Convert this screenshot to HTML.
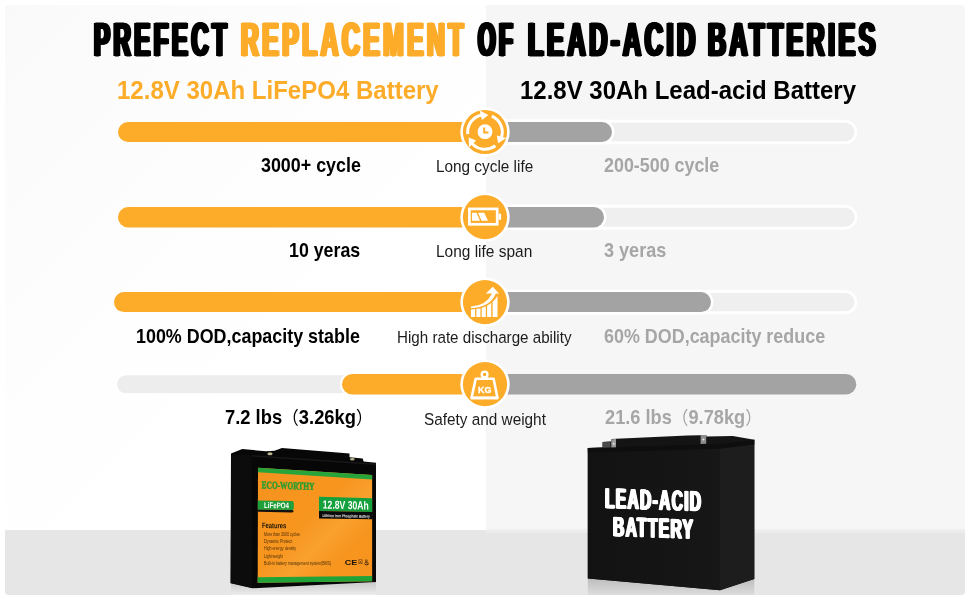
<!DOCTYPE html>
<html lang="en">
<head>
<meta charset="utf-8">
<title>Prefect Replacement of Lead-Acid Batteries</title>
<style>
html,body{margin:0;padding:0;background:#fff;}
body{width:970px;height:600px;overflow:hidden;position:relative;font-family:"Liberation Sans","Noto Sans CJK SC",sans-serif;}
#stage{position:absolute;left:0;top:0;width:970px;height:600px;overflow:hidden;background:#fff;}
#panel{position:absolute;left:5px;top:5px;width:960px;height:590px;border-radius:4px;overflow:hidden;background:#f6f6f6;}
#panel .lh{position:absolute;left:0;top:0;width:480.6px;height:525px;background:linear-gradient(135deg,#f9f9f9 0%,#fcfcfc 22%,#fefefe 45%,#ffffff 70%,#ffffff 100%);}
#panel .rh{position:absolute;left:480.6px;top:0;width:479.4px;height:528.3px;background:linear-gradient(#f6f6f6 0,#f6f6f6 523.8px,#eeeeee 524.6px,#ebebeb 528.3px);}
#panel .floor{position:absolute;left:0;top:525px;width:960px;height:65px;background:#e6e6e6;}
#title{margin:0;position:absolute;left:0;top:0;font-size:0;}
#title span{position:absolute;top:14.5px;font:bold 48.5px "Liberation Sans",sans-serif;line-height:1;white-space:nowrap;transform-origin:0 0;}
#la span{position:absolute;font-weight:bold;font-family:"Liberation Sans",sans-serif;line-height:1;white-space:nowrap;transform-origin:0 0;color:#fff;-webkit-text-stroke:0.6px #fff;}
svg{position:absolute;left:0;top:0;}

.t{position:absolute;white-space:nowrap;line-height:1;margin:0;transform-origin:0 0;}
.h{font-size:25.3px;font-weight:bold;}
.v{font-size:19.7px;font-weight:bold;}
.c{font-size:16.8px;font-weight:normal;}
.p{font-family:"Noto Sans CJK SC",sans-serif;font-weight:normal;font-size:18px;}

</style>
</head>
<body>
<div id="stage">
<div id="panel"><div class="floor"></div><div class="lh"></div><div class="rh"></div></div>
<svg width="970" height="600" viewBox="0 0 970 600" role="img" aria-label="comparison bars, icons and battery illustrations">
<rect x="470" y="119.8" width="387.2" height="24.4" rx="12.2" fill="#fff"/>
<rect x="470" y="122.8" width="384.5" height="18.4" rx="9.2" fill="#efefef"/>
<rect x="470" y="119.6" width="144.4" height="24.8" rx="12.4" fill="#fff"/>
<rect x="470" y="122.0" width="142.0" height="20.0" rx="10.0" fill="#a3a3a3"/>
<rect x="118" y="122.0" width="382" height="20.0" rx="10.0" fill="#fcac29"/>
<circle cx="485" cy="132.0" r="24.7" fill="#fff"/><circle cx="485" cy="132.0" r="22.1" fill="#fcac29"/>
<rect x="470" y="204.8" width="387.2" height="24.9" rx="12.4" fill="#fff"/>
<rect x="470" y="207.8" width="384.5" height="18.9" rx="9.4" fill="#efefef"/>
<rect x="470" y="204.6" width="136.4" height="25.3" rx="12.7" fill="#fff"/>
<rect x="470" y="207.0" width="134.0" height="20.5" rx="10.2" fill="#a3a3a3"/>
<rect x="118" y="207.0" width="382" height="20.5" rx="10.2" fill="#fcac29"/>
<circle cx="485" cy="217.2" r="24.7" fill="#fff"/><circle cx="485" cy="217.2" r="22.1" fill="#fcac29"/>
<rect x="470" y="289.9" width="387.2" height="24.4" rx="12.2" fill="#fff"/>
<rect x="470" y="292.9" width="384.5" height="18.4" rx="9.2" fill="#efefef"/>
<rect x="470" y="289.7" width="243.4" height="24.8" rx="12.4" fill="#fff"/>
<rect x="470" y="292.1" width="241.0" height="20.0" rx="10.0" fill="#a3a3a3"/>
<rect x="114" y="292.1" width="386" height="20.0" rx="10.0" fill="#fcac29"/>
<circle cx="485" cy="302.1" r="24.7" fill="#fff"/><circle cx="485" cy="302.1" r="22.1" fill="#fcac29"/>
<rect x="115" y="373.1" width="383" height="22.3" rx="11.2" fill="#fff"/>
<rect x="117" y="375.2" width="383" height="18.1" rx="9.1" fill="#ededed"/>
<rect x="339.8" y="371.7" width="100" height="25.1" rx="12.6" fill="#fff"/>
<rect x="470" y="373.9" width="386.3" height="20.7" rx="10.4" fill="#a3a3a3"/>
<rect x="342" y="373.9" width="158" height="20.7" rx="10.4" fill="#fcac29"/>
<circle cx="485" cy="384.2" r="24.7" fill="#fff"/><circle cx="485" cy="384.2" r="22.1" fill="#fcac29"/>
<path d="M467.83 134.11 A17.3 17.3 0 0 1 482.00 114.96" fill="none" stroke="#fff" stroke-width="3.0"/><path d="M488.33 115.02 L479.63 110.46 L482.00 119.97 Z" fill="#fff"/>
<path d="M491.76 116.08 A17.3 17.3 0 0 1 501.26 137.92" fill="none" stroke="#fff" stroke-width="3.0"/><path d="M498.04 143.37 L506.34 138.12 L496.92 135.42 Z" fill="#fff"/>
<path d="M495.41 145.82 A17.3 17.3 0 0 1 471.75 143.12" fill="none" stroke="#fff" stroke-width="3.0"/><path d="M468.63 137.60 L469.03 147.42 L476.08 140.61 Z" fill="#fff"/>
<circle cx="485" cy="131.7" r="7.4" fill="#fff"/>
<path d="M484.2 127.5 V132.6 H488.5" fill="none" stroke="#fcac29" stroke-width="2"/>
<rect x="469.4" y="208.89999999999998" width="27.8" height="15.4" fill="none" stroke="#fff" stroke-width="2.7"/>
<rect x="498.5" y="213.7" width="2.6" height="6" fill="#fff"/>
<path d="M472 212.79999999999998 H476.5 L480 220.79999999999998 H472 Z" fill="#fff"/>
<path d="M478 212.79999999999998 H484.2 L488 220.79999999999998 H481.6 Z" fill="#fff"/>
<clipPath id="barclip"><path d="M470.00 309.40 L471.00 309.40 Q490.00 309.20 498.40 294.50 L499.00 294.50 L499.00 318.00 L470.00 318.00 Z"/></clipPath>
<g clip-path="url(#barclip)" fill="#fff"><rect x="471.00" y="292" width="4.10" height="25.00"/><rect x="476.40" y="292" width="4.00" height="25.00"/><rect x="481.70" y="292" width="4.10" height="25.00"/><rect x="487.10" y="292" width="4.10" height="25.00"/><rect x="492.60" y="292" width="4.90" height="25.00"/></g>
<path d="M471.00 306.60 Q486.40 305.40 492.00 293.40 L485.80 293.40 L492.80 286.80 L499.20 293.80 L495.80 293.60 Q490.00 307.60 471.00 308.20 Z" fill="#fff"/>
<circle cx="484.6" cy="374.5" r="2.9" fill="none" stroke="#fff" stroke-width="2.3"/>
<path d="M475.7 378.8 H493.6 L497.5 398 H471.5 Z" fill="none" stroke="#fff" stroke-width="2.6" stroke-linejoin="round"/>
<rect x="471" y="396.5" width="27" height="2.8" fill="#fff"/>
<text x="484.7" y="393" font-family="Liberation Sans, sans-serif" font-weight="bold" font-size="9" fill="#fff" stroke="#fff" stroke-width="0.3" text-anchor="middle" letter-spacing="-0.1">KG</text>
<defs>
<linearGradient id="lab" x1="0" y1="0" x2="1" y2="1">
<stop offset="0" stop-color="#f6921e"/><stop offset="0.45" stop-color="#f7961f"/><stop offset="0.6" stop-color="#f9a02e"/><stop offset="0.75" stop-color="#f7961f"/><stop offset="1" stop-color="#f6921e"/>
</linearGradient>
<linearGradient id="refl1" x1="0" y1="0" x2="0" y2="1">
<stop offset="0" stop-color="#c9c9c9"/><stop offset="1" stop-color="#ededed"/>
</linearGradient>
<linearGradient id="refl2" x1="0" y1="0" x2="0" y2="1">
<stop offset="0" stop-color="#bdbdbd"/><stop offset="1" stop-color="#dcdcdc"/>
</linearGradient>
<linearGradient id="front2" x1="0" y1="0" x2="1" y2="0">
<stop offset="0" stop-color="#121212"/><stop offset="1" stop-color="#171717"/>
</linearGradient>
</defs>
<path d="M231 583 L252.4 588.3 L376 582 L376 595 L231 595 Z" fill="url(#refl1)"/>
<path d="M231 453.6 L242.3 449.1 L266 451.2 L274.5 450.7 L281.9 447.9 L349.5 453.5 L349.5 457.2 L362.7 458.4 L363.6 461.4 L376 462.8 L376 582 L252.4 588.3 L230.5 583.3 Z" fill="#070707"/>
<path d="M231.3 454.5 L251.5 455 L252.4 588 L230.8 583 Z" fill="#0c0c0c"/>
<path d="M252 455 L376 463.5 L376 465 L252 456.5 Z" fill="#1c1c1c" opacity="0.8"/>
<ellipse cx="270" cy="453.8" rx="2.6" ry="1.5" fill="#b9b48c"/>
<ellipse cx="352.3" cy="459.3" rx="2.4" ry="1.3" fill="#b9b48c"/>
<path d="M258 467.7 L372.1 475 L372.1 581.2 L257.7 582.8 Z" fill="url(#lab)"/>
<path d="M258 467.7 L372.1 475 L372.1 479.6 L258 472.3 Z" fill="#27a53a"/>
<path d="M257.7 577.3 L372.1 576 L372.1 581.2 L257.7 582.8 Z" fill="#22a338"/>
<path d="M257.8 509.2 L292.5 509.9 L293.8 511.2 L292.3 512.6 L257.8 511.8 Z" fill="#111"/>
<path d="M257.8 500.4 L292.2 501 Q293.8 501.2 293.8 502.8 L293.8 508.2 Q293.8 509.8 292.2 509.9 L257.8 509.4 Z" fill="#1fa03a"/>
<path d="M319 496.8 L372.2 498.3 L372.2 512 L319 511 Z" fill="#14a03c"/>
<path d="M319 511 L372.6 512 L372.6 519.3 L319 518.4 Z" fill="#0b0b0b"/>
<g font-family="Liberation Sans, sans-serif">
<text transform="translate(261.6 488.3) skewY(1.6)" font-family="Liberation Serif, serif" font-weight="bold" font-size="10.4" textLength="52.8" lengthAdjust="spacingAndGlyphs" fill="#2a9d2f" stroke="#2a9d2f" stroke-width="0.5">ECO-WORTHY</text>
<text transform="translate(264 508) skewY(0.8)" font-weight="bold" font-size="8.2" textLength="25" lengthAdjust="spacingAndGlyphs" fill="#fff">LiFePO4</text>
<text transform="translate(322.8 508.6) skewY(1.2)" font-weight="bold" font-size="11.6" textLength="46" lengthAdjust="spacingAndGlyphs" fill="#fff">12.8V 30Ah</text>
<text transform="translate(322.4 517) skewY(1)" font-weight="bold" font-size="4.2" textLength="47.5" lengthAdjust="spacingAndGlyphs" fill="#e8e8e8">Lithium Iron Phosphate Battery</text>
<text transform="translate(261.9 528.1) skewY(0.4)" font-weight="bold" font-size="7.8" textLength="24.4" lengthAdjust="spacingAndGlyphs" fill="#1a1206">Features</text>
<text x="264" y="535.6" font-size="4.8" textLength="35.9" lengthAdjust="spacingAndGlyphs" fill="#2b1a05" opacity="0.85">More than 3000 cycles</text>
<text x="264" y="542.8000000000001" font-size="4.8" textLength="28.2" lengthAdjust="spacingAndGlyphs" fill="#2b1a05" opacity="0.85">Dynamic Protect</text>
<text x="264" y="550.3000000000001" font-size="4.8" textLength="32.2" lengthAdjust="spacingAndGlyphs" fill="#2b1a05" opacity="0.85">High energy density</text>
<text x="264" y="557.6" font-size="4.8" textLength="18.8" lengthAdjust="spacingAndGlyphs" fill="#2b1a05" opacity="0.85">Light weight</text>
<text x="264" y="564.9" font-size="4.8" textLength="67.1" lengthAdjust="spacingAndGlyphs" fill="#2b1a05" opacity="0.85">Built-in battery management system(BMS)</text>
<text x="344.8" y="564.6" font-weight="bold" font-size="7.6" textLength="12.5" lengthAdjust="spacingAndGlyphs" fill="#1a1206">CE</text>
<text x="358.3" y="564.4" font-size="7.4" fill="#3a2608" opacity="0.8" textLength="5" lengthAdjust="spacingAndGlyphs">⊠</text>
<text x="363.8" y="564.6" font-weight="bold" font-size="7.8" fill="#1a1206" textLength="5" lengthAdjust="spacingAndGlyphs">♨</text>
</g>
<path d="M587.8 578.4 L720 590.2 L754.3 579 L754.3 595 L587.8 595 Z" fill="url(#refl2)"/>
<path d="M602.5 447.8 L602.5 442 L611 441.5 L611.5 439 L616.2 438.8 L687.7 435.5 L700.5 435.2 L700.5 434.9 L706.3 434.9 L706.3 436.6 L732.8 435.9 L754.3 439.8 L754.3 579 L720 590.2 L587.8 578.4 L587.8 448 Z" fill="#141414"/>
<path d="M587.8 448 L720 443.9 L720 590.2 L587.8 578.4 Z" fill="url(#front2)"/>
<path d="M720 443.9 L754.3 439.8 L754.3 579 L720 590.2 Z" fill="#1d1d1d"/>
<path d="M587.8 448 L720 443.9 L754.3 439.8 L754.3 444.5 L720 448.8 L587.8 452.6 Z" fill="#0e0e0e"/>
<path d="M602.8 442 L610.5 441.6 L610.5 447.4 L602.8 447.7 Z" fill="#4a4a4a"/>
<path d="M611.3 439.2 L616 439 L616 447.2 L611.3 447.4 Z" fill="#9a9a9a"/>
<circle cx="613.7" cy="443.8" r="1" fill="#e8e8e8"/>
<path d="M700.6 435 L706.2 435 L706.2 443.8 L700.6 444 Z" fill="#8c8c8c"/>
<circle cx="703.4" cy="439.6" r="1" fill="#e8e8e8"/>
</svg>
<h1 id="title"><span style="left:94.18px;transform:scaleX(0.4939);color:#000;-webkit-text-stroke:1.0px #000;text-shadow:1.721px 0 0 #000,-1.721px 0 0 #000,3.442px 0 0 #000,-3.442px 0 0 #000;letter-spacing:7.086px">PREFECT</span> <span style="left:240.87px;transform:scaleX(0.5076);color:#fcac29;-webkit-text-stroke:1.0px #fcac29;text-shadow:1.675px 0 0 #fcac29,-1.675px 0 0 #fcac29,3.349px 0 0 #fcac29,-3.349px 0 0 #fcac29;letter-spacing:6.895px">REPLACEMENT</span> <span style="left:478.36px;transform:scaleX(0.4656);color:#000;-webkit-text-stroke:1.0px #000;text-shadow:1.826px 0 0 #000,-1.826px 0 0 #000,3.651px 0 0 #000,-3.651px 0 0 #000;letter-spacing:7.517px">OF</span> <span style="left:527.55px;transform:scaleX(0.5223);color:#000;-webkit-text-stroke:1.0px #000;text-shadow:1.627px 0 0 #000,-1.627px 0 0 #000,3.255px 0 0 #000,-3.255px 0 0 #000;letter-spacing:6.701px">LEAD-ACID</span> <span style="left:707.75px;transform:scaleX(0.5135);color:#000;-webkit-text-stroke:1.0px #000;text-shadow:1.655px 0 0 #000,-1.655px 0 0 #000,3.311px 0 0 #000,-3.311px 0 0 #000;letter-spacing:6.816px">BATTERIES</span> </h1>
<h2 class="t h" style="left:116.74px;top:77.91px;color:#fcac29;transform:scaleX(0.9495);">12.8V 30Ah LiFePO4 Battery</h2>
<h2 class="t h" style="left:519.55px;top:77.91px;color:#000;transform:scaleX(0.9484);">12.8V 30Ah Lead-acid Battery</h2>
<div class="t v" style="left:260.52px;top:156.01px;color:#000;transform:scaleX(0.9075);">3000+ cycle</div>
<div class="t c" style="left:436.10px;top:158.81px;color:#1c1c1c;transform:scaleX(0.9138);">Long cycle life</div>
<div class="t v" style="left:603.55px;top:156.01px;color:#a6a6a6;transform:scaleX(0.9076);">200-500 cycle</div>
<div class="t v" style="left:288.50px;top:241.01px;color:#000;transform:scaleX(0.9033);">10 yeras</div>
<div class="t c" style="left:435.77px;top:244.20px;color:#1c1c1c;transform:scaleX(0.9209);">Long life span</div>
<div class="t v" style="left:603.82px;top:241.01px;color:#a6a6a6;transform:scaleX(0.9177);">3 yeras</div>
<div class="t v" style="left:136.38px;top:327.01px;color:#000;transform:scaleX(0.9092);">100% DOD,capacity stable</div>
<div class="t c" style="left:396.64px;top:329.70px;color:#1c1c1c;transform:scaleX(0.9038);">High rate discharge ability</div>
<div class="t v" style="left:604.23px;top:327.01px;color:#a6a6a6;transform:scaleX(0.9102);">60% DOD,capacity reduce</div>
<div class="t v" style="left:224.80px;top:407.01px;color:#000;transform:scaleX(0.9316);">7.2 lbs<span class="p">（</span>3.26kg<span class="p">）</span></div>
<div class="t c" style="left:423.56px;top:412.11px;color:#1c1c1c;transform:scaleX(0.9137);">Safety and weight</div>
<div class="t v" style="left:605.01px;top:407.01px;color:#a6a6a6;transform:scaleX(0.9252);">21.6 lbs<span class="p">（</span>9.78kg<span class="p">）</span></div>
<div id="la"><span style="left:605.06px;top:483.57px;font-size:28.55px;transform:skewY(1.9deg) scaleX(0.5457);text-shadow:0.870px 0 0 #fff,-0.870px 0 0 #fff,1.741px 0 0 #fff,-1.741px 0 0 #fff;letter-spacing:2.382px">LEAD-ACID</span> <span style="left:613.41px;top:512.63px;font-size:27.54px;transform:skewY(1.9deg) scaleX(0.5687);text-shadow:0.835px 0 0 #fff,-0.835px 0 0 #fff,1.670px 0 0 #fff,-1.670px 0 0 #fff;letter-spacing:2.286px">BATTERY</span> </div>
</div>
</body>
</html>
